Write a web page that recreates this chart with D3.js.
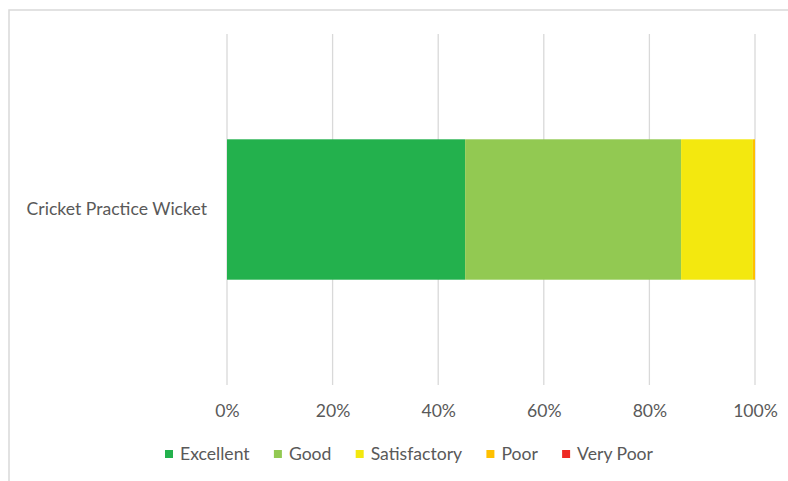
<!DOCTYPE html>
<html><head><meta charset="utf-8">
<script src="https://cdn.jsdelivr.net/npm/d3@7"></script>
<style>
body{margin:0;background:#fff;}
text{font-family:Lato,"Open Sans",sans-serif;fill:#595959;}
</style></head>
<body><svg id="c" width="788" height="481"></svg>
<script>
const categories = ["Cricket Practice Wicket"];
const seriesNames = ["Excellent","Good","Satisfactory","Poor","Very Poor"];
const seriesValues = [45.1, 40.9, 13.6, 0.4, 0.0];
const seriesColors = ["#23B14D","#92C952","#F3E80F","#FFC000","#EE2A24"];
const tickValues = [0,20,40,60,80,100];

const FS = "17.6px";
const svg = d3.select("#c");
// outer chart border
svg.append("rect").attr("x",9).attr("y",10).attr("width",800).attr("height",500)
  .attr("fill","none").attr("stroke","#d9d9d9").attr("stroke-width",1.5);

const x = d3.scaleLinear().domain([0,100]).range([227,755]);
const y = d3.scaleBand().domain(categories).range([34,385]).paddingInner(0.6).paddingOuter(0.3);

// gridlines
svg.append("g").selectAll("line").data(tickValues).join("line")
  .attr("x1",d=>x(d)).attr("x2",d=>x(d)).attr("y1",34).attr("y2",385)
  .attr("stroke","#d9d9d9").attr("stroke-width",1.3);

// stacked bars
let cum=0;
const segs = seriesValues.map((v,i)=>{const s={name:seriesNames[i],x0:cum,x1:cum+v,color:seriesColors[i]};cum+=v;return s;});
svg.append("g").selectAll("rect").data(segs).join("rect")
  .attr("x",d=>x(d.x0)).attr("width",d=>x(d.x1)-x(d.x0))
  .attr("y",y(categories[0])).attr("height",y.bandwidth())
  .attr("fill",d=>d.color);

// x axis labels
const xAxis = d3.axisBottom(x).tickValues(tickValues).tickFormat(d=>d+"%").tickSize(0).tickPadding(0);
const gx = svg.append("g").attr("transform","translate(0,417)").call(xAxis);
gx.select(".domain").remove();
gx.selectAll("text").attr("dy",0).style("font-size",FS).attr("fill","#595959")
  .style("font-family","Lato, 'Open Sans', sans-serif");

// y axis label
const yAxis = d3.axisLeft(y).tickSize(0).tickPadding(0);
const gy = svg.append("g").attr("transform","translate(207,0)").call(yAxis);
gy.select(".domain").remove();
gy.selectAll("text").style("font-size",FS).attr("fill","#595959")
  .style("font-family","Lato, 'Open Sans', sans-serif");

// legend
const lg = svg.append("g").attr("transform","translate(0,454)");
const items = lg.selectAll("g").data(seriesNames).join("g");
items.append("rect").attr("width",8).attr("height",8).attr("y",-4)
  .attr("fill",(d,i)=>seriesColors[i]);
items.append("text").attr("x",15).attr("dy","0.35em").text(d=>d)
  .style("font-size",FS);
let widths=[];
items.each(function(){widths.push(15+this.querySelector("text").getComputedTextLength());});
const left=165, right=653;
const gap=(right-left-d3.sum(widths))/(widths.length-1);
let pos=left;
items.attr("transform",(d,i)=>{const p=pos;pos+=widths[i]+gap;return `translate(${p},0)`;});
</script></body></html>
